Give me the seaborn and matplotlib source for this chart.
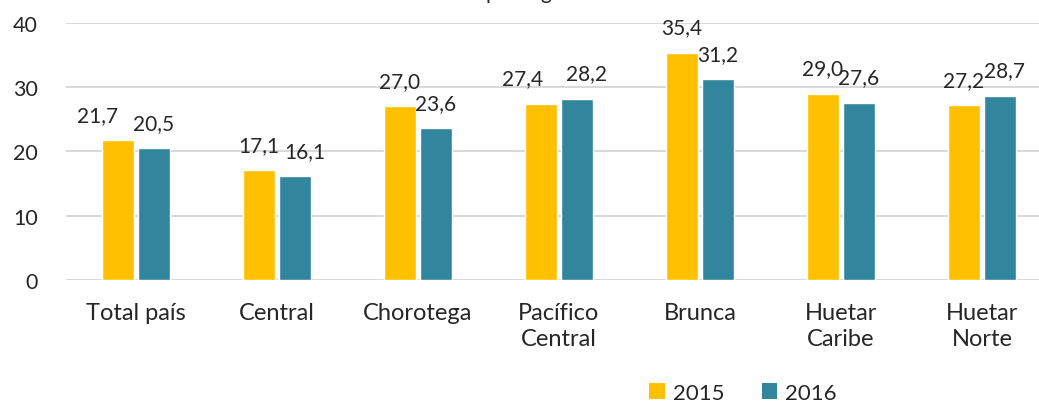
import numpy as np
import pandas as pd
import seaborn as sns
import matplotlib.pyplot as plt
from matplotlib.patches import Patch

categories = ["Total país", "Central", "Chorotega", "Pacífico\nCentral",
              "Brunca", "Huetar\nCaribe", "Huetar\nNorte"]
years = ["2015", "2016"]
values_2015 = [21.7, 17.1, 27.0, 27.4, 35.4, 29.0, 27.2]
values_2016 = [20.5, 16.1, 23.6, 28.2, 31.2, 27.6, 28.7]
yticks = [0, 10, 20, 30, 40]
colors = ["#FFC000", "#31859C"]

# horizontal label nudges (points) where Excel moved labels apart: (series, category) -> dx
label_nudge = {(0, 0): -15, (1, 1): 7, (0, 3): -13, (1, 3): 6.5, (1, 6): 3.5}

df = pd.DataFrame({
    "Región": categories * 2,
    "Año": [years[0]] * len(categories) + [years[1]] * len(categories),
    "Valor": values_2015 + values_2016,
})

sns.set_style("white")
plt.rcParams["font.family"] = ["Lato", "DejaVu Sans"]

fig = plt.figure(figsize=(10.39, 4.06), dpi=100)
W, H = 1039, 406
ax = fig.add_axes([65.5 / W, (H - 280.7) / H, 987 / W, 256.7 / H])

sns.barplot(data=df, x="Región", y="Valor", hue="Año", order=categories,
            hue_order=years, palette=colors, width=0.51, gap=0.125,
            saturation=1, legend=False, ax=ax)

pad = 11
for i, cont in enumerate(ax.containers):
    texts = ax.bar_label(cont, labels=[f"{v:.1f}".replace(".", ",") for v in cont.datavalues],
                         padding=pad, fontsize=15)
    for j, t in enumerate(texts):
        if (i, j) in label_nudge:
            t.xyann = (label_nudge[(i, j)], pad)

ax.set_ylim(0, 40)
ax.set_xlim(-0.5, len(categories) - 0.5)
ax.set_yticks(yticks)
ax.yaxis.grid(True, color="#D9D9D9", linewidth=1.5)
ax.set_axisbelow(True)
sns.despine(ax=ax, left=True, bottom=True, top=True, right=True)
ax.tick_params(axis="both", length=0)
ax.tick_params(axis="y", labelsize=15.5, pad=20)
ax.tick_params(axis="x", labelsize=17, pad=16)
for lab in ax.get_xticklabels():
    lab.set_linespacing(1.28)
ax.set_xlabel("")
ax.set_ylabel("")

fig.text(0.513, 1.0 + 1.0 / H, "por región", ha="center", va="baseline", fontsize=15)

handles = [Patch(facecolor=c, edgecolor="none") for c in colors]
fig.legend(handles, years, loc="center", bbox_to_anchor=(743 / W, 1 - 394 / H),
           ncol=2, frameon=False, fontsize=16, handlelength=0.7, handleheight=0.7,
           handletextpad=0.35, columnspacing=1.7)

fig.savefig("out.png", dpi=100)
